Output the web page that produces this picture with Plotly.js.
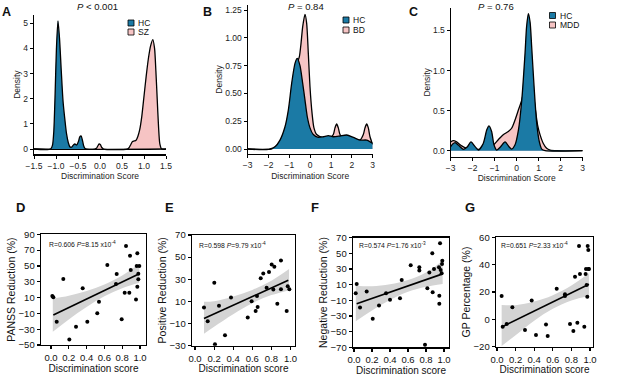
<!DOCTYPE html>
<html><head><meta charset="utf-8">
<script src="https://cdn.plot.ly/plotly-3.0.1.min.js"></script>
<style>html,body{margin:0;padding:0;background:#fff}#chart{width:628px;height:377px}</style>
</head><body><div id="chart"></div>
<script>
// ---------- Panel A : density (HC vs SZ) ----------
const aHcX = [-1.5,-1.12,-1.08,-1.05,-1.02,-0.99,-0.955,-0.92,-0.88,-0.84,-0.80,-0.76,-0.72,-0.68,-0.64,-0.60,-0.57,-0.53,-0.49,-0.46,-0.43,-0.40,-0.37,-0.34,-0.30,1.5];
const aHcY = [0,0,0.15,0.7,2.2,4.0,5.1,4.4,3.1,1.9,1.2,0.6,0.25,0.08,0.08,0.17,0.2,0.16,0.3,0.48,0.52,0.35,0.12,0.02,0,0];
const aSzX = [-1.5,-0.12,-0.08,-0.05,-0.02,0.01,0.04,0.08,0.62,0.66,0.70,0.74,0.78,0.82,0.86,0.90,0.95,1.00,1.05,1.10,1.15,1.20,1.24,1.27,1.30,1.33,1.36,1.40,1.5];
const aSzY = [0,0,0.03,0.12,0.2,0.17,0.06,0,0,0.05,0.18,0.3,0.32,0.35,0.5,0.75,1.3,2.1,2.9,3.6,4.1,4.35,4.0,3.1,2.0,0.9,0.2,0,0];
// ---------- Panel B : density (HC vs BD) ----------
const bHcX = [-3,-1.93,-1.69,-1.45,-1.21,-1.05,-0.89,-0.73,-0.62,-0.49,-0.36,-0.25,-0.14,-0.01,0.15,0.39,0.63,0.87,1.11,1.43,1.75,2.07,2.39,2.71,3.0];
const bHcY = [0,0,0.02,0.08,0.2,0.35,0.59,0.77,0.815,0.75,0.59,0.44,0.29,0.19,0.13,0.105,0.11,0.12,0.11,0.117,0.126,0.105,0.08,0.08,0.05];
const bBdX = [-3,-1.85,-1.45,-1.13,-0.81,-0.62,-0.52,-0.44,-0.36,-0.25,-0.17,-0.09,-0.01,0.09,0.18,0.31,0.63,0.95,1.11,1.19,1.27,1.35,1.43,1.59,2.07,2.39,2.55,2.63,2.71,2.79,2.87,3.0];
const bBdY = [0,0,0.06,0.2,0.53,0.77,0.83,0.95,1.1,1.21,1.13,0.86,0.56,0.32,0.19,0.13,0.1,0.1,0.13,0.19,0.225,0.19,0.13,0.1,0.09,0.08,0.13,0.19,0.225,0.19,0.11,0.04];
// ---------- Panel C : density (HC vs MDD) ----------
const cHcX = [-3,-2.91,-2.8,-2.65,-2.42,-2.24,-2.08,-1.89,-1.74,-1.52,-1.36,-1.26,-1.14,-1.03,-0.91,-0.73,-0.53,-0.35,-0.23,-0.08,0.08,0.23,0.38,0.45,0.53,0.61,0.68,0.79,0.91,1.03,1.14,1.29,3.0];
const cHcY = [0.05,0.083,0.1,0.07,0.017,0.05,0.11,0.05,0.008,0.09,0.26,0.31,0.24,0.07,0.008,0.05,0.11,0.05,0.02,0.07,0.26,0.63,1.22,1.55,1.71,1.6,1.3,0.8,0.34,0.11,0.02,0,0];
const cMddX = [-3,-2.88,-2.73,-2.5,-2.27,-1.97,-1.67,-1.36,-1.06,-0.83,-0.61,-0.38,-0.23,-0.08,0.08,0.23,0.38,0.53,0.68,0.83,0.95,1.06,1.21,1.36,1.52,1.82,3.0];
const cMddY = [0.11,0.125,0.11,0.06,0.03,0.017,0.017,0.03,0.07,0.14,0.2,0.24,0.28,0.38,0.51,0.63,0.8,0.93,0.84,0.55,0.32,0.2,0.09,0.03,0.008,0,0];
const groupNames = {a:['HC','SZ'], b:['HC','BD'], c:['HC','MDD']};
const pValues = ['<i>P</i> < 0.001','<i>P</i> = 0.84','<i>P</i> = 0.76'];

// ---------- Panel D ----------
const dX = [0.015,0.026,0.064,0.138,0.206,0.281,0.356,0.408,0.539,0.52,0.633,0.738,0.73,0.794,0.843,0.828,0.88,0.888,0.896,0.955,0.97,0.963,0.97,0.981,0.992,0.981];
const dY = [12,10.3,-20.5,33.5,-42.9,-26.8,21.7,-20.5,4.8,-10,51.2,39.8,27.2,-17.5,75.2,16.2,16.2,63,44.9,7.7,66,50,23.8,33,50,40];
const dFitX = [0.026,0.992], dFitY = [-12,40.2];
const dBandX = [0.02,0.2,0.4,0.6,0.8,0.992];
const dBandHi = [8.7,12.4,18.2,26.5,37.8,52.6];
const dBandLo = [-33.3,-17.6,-1.8,11.5,21.8,28.6];
// ---------- Panel E ----------
const eX = [0.094,0.133,0.202,0.209,0.251,0.314,0.377,0.552,0.593,0.635,0.656,0.649,0.688,0.715,0.75,0.775,0.803,0.831,0.82,0.862,0.9,0.9,0.96,0.971,0.988];
const eY = [4.4,-8,26.8,-28.8,6,-20.6,13.5,-4.6,10.2,1.4,5,15,31,35.3,22.3,36.5,43.4,41.3,20.8,7.8,47,21,1.4,23.8,21];
const eFitX = [0.094,0.977], eFitY = [-5.5,29.2];
const eBandX = [0.094,0.2,0.4,0.6,0.8,0.985];
const eBandHi = [9.6,10.2,14.5,20.4,28.7,39.2];
const eBandLo = [-19.1,-12.8,-1.5,8.4,15.7,20.2];
// ---------- Panel F ----------
const fX = [0.019,0.03,0.067,0.141,0.208,0.278,0.356,0.4,0.511,0.53,0.63,0.726,0.726,0.789,0.815,0.837,0.87,0.874,0.889,0.944,0.948,0.948,0.956,0.963,0.978,0.981,0.974];
const fY = [-0.9,11,-19.1,1.3,-33.5,-16.6,-0.9,-9.3,-7.2,16.1,34.8,32.2,28,-66.6,5.5,25.5,50,0.4,30.1,32.2,-4.2,-14.4,62.8,28.8,36.5,40.7,24.6];
const fFitX = [0.03,0.985], fFitY = [-14.4,23.8];
const fBandX = [0.02,0.2,0.4,0.6,0.8,0.985];
const fBandHi = [8.5,7.9,10.4,15.9,25.4,41];
const fBandLo = [-36.8,-23.1,-9.6,0.9,7.4,11];
// ---------- Panel G ----------
const gX = [0.05,0.061,0.104,0.165,0.301,0.373,0.419,0.527,0.545,0.642,0.731,0.731,0.785,0.821,0.839,0.864,0.882,0.892,0.939,0.953,0.957,0.964,0.971,0.975,0.982,0.982,0.989];
const gY = [17.1,-5.4,-3.4,8.8,-7.8,13.7,-11.5,-3.7,-12.2,22.4,18.3,17.1,-3.4,-8.5,31.2,-2.4,53.7,33.2,-5.4,33.2,36.8,25.1,16.6,53.7,50.7,36.8,36.8];
const gFitX = [0.057,0.989], gFitY = [-5.4,25.6];
const gBandX = [0.05,0.2,0.4,0.6,0.8,0.989];
const gBandHi = [10.5,10.4,13,17.7,24.8,33.7];
const gBandLo = [-19.5,-11.6,-1,7.7,13.8,17.1];

const statTexts = [
  'R=0.606 <i>P</i>=8.15 x10<sup>-4</sup>',
  'R=0.598 <i>P</i>=9.79 x10<sup>-4</sup>',
  'R=0.574 <i>P</i>=1.76 x10<sup>-3</sup>',
  'R=0.651 <i>P</i>=2.33 x10<sup>-4</sup>'
];
const yTitles = ['PANSS Reduction (%)','Positive Reduction (%)','Negative Reduction (%)','GP Percentage (%)'];

// ---------- layout helpers ----------
const W = 628, H = 377;
const PX = p => p / W;
const PY = p => 1 - p / H;
const FONT = 'Liberation Sans, Arial, Helvetica, sans-serif';
const BLUE = '#1b7aa5', PINK = '#f6c4c4', BAND = '#d4d4d4';

const traces = [];
function dens(x, y, color, ax) {
  traces.push({x, y, type:'scatter', mode:'lines', fill:'tozeroy', fillcolor:color,
    line:{color:'#000', width:1.3, shape:'spline', smoothing:0.7},
    xaxis:'x'+ax, yaxis:'y'+ax, showlegend:false, hoverinfo:'skip'});
}
dens(aSzX, aSzY, PINK, '');
dens(aHcX, aHcY, BLUE, '');
dens(bBdX, bBdY, PINK, '2');
dens(bHcX, bHcY, BLUE, '2');
dens(cMddX, cMddY, PINK, '3');
dens(cHcX, cHcY, BLUE, '3');

function scat(px, py, fx, fy, bx, lo, hi, ax) {
  const xa = 'x'+ax, ya = 'y'+ax;
  traces.push({x:bx, y:lo, type:'scatter', mode:'lines', line:{width:0, shape:'spline'}, xaxis:xa, yaxis:ya, showlegend:false, hoverinfo:'skip'});
  traces.push({x:bx, y:hi, type:'scatter', mode:'lines', fill:'tonexty', fillcolor:BAND, line:{width:0, shape:'spline'}, xaxis:xa, yaxis:ya, showlegend:false, hoverinfo:'skip'});
  traces.push({x:fx, y:fy, type:'scatter', mode:'lines', line:{color:'#000', width:1.6}, xaxis:xa, yaxis:ya, showlegend:false});
  traces.push({x:px, y:py, type:'scatter', mode:'markers', marker:{color:'#000', size:4}, xaxis:xa, yaxis:ya, showlegend:false});
}
scat(dX, dY, dFitX, dFitY, dBandX, dBandLo, dBandHi, '4');
scat(eX, eY, eFitX, eFitY, eBandX, eBandLo, eBandHi, '5');
scat(fX, fY, fFitX, fFitY, fBandX, fBandLo, fBandHi, '6');
scat(gX, gY, gFitX, gFitY, gBandX, gBandLo, gBandHi, '7');

function densX(l, r, rng, anchor, dtick, fmt) {
  return {domain:[PX(l), PX(r)], range:rng, anchor, showline:true, linecolor:'#000', linewidth:1.2,
    ticks:'outside', ticklen:3, tickwidth:1, tickcolor:'#000', showgrid:false, zeroline:false,
    tick0:rng[0], dtick, tickformat:fmt, tickfont:{size:8.5, color:'#222', family:FONT},
    title:{text:'Discrimination Score', font:{size:8.5, color:'#222', family:FONT}, standoff:3}};
}
function densY(t, b, rng, anchor, dtick, fmt) {
  return {domain:[PY(b), PY(t)], range:rng, anchor, showline:true, linecolor:'#000', linewidth:1.2,
    ticks:'outside', ticklen:3, tickwidth:1, tickcolor:'#000', showgrid:false, zeroline:false,
    tick0:0, dtick, tickformat:fmt, tickfont:{size:8.5, color:'#222', family:FONT},
    title:{text:'Density', font:{size:8.5, color:'#222', family:FONT}, standoff:1}};
}
function boxX(l, r, rng, anchor) {
  return {domain:[PX(l), PX(r)], range:rng, anchor, showline:true, mirror:true, linecolor:'#000', linewidth:1.4,
    ticks:'outside', ticklen:3, tickwidth:1.2, tickcolor:'#000', showgrid:false, zeroline:false,
    tick0:0, dtick:0.2, tickformat:'.1f', tickfont:{size:9.5, color:'#111', family:FONT},
    title:{text:'Discrimination score', font:{size:10, color:'#111', family:FONT}, standoff:2}};
}
function boxY(t, b, rng, anchor, title) {
  return {domain:[PY(b), PY(t)], range:rng, anchor, showline:true, mirror:true, linecolor:'#000', linewidth:1.4,
    ticks:'outside', ticklen:3, tickwidth:1.2, tickcolor:'#000', showgrid:false, zeroline:false,
    tick0:rng[0], dtick:20, tickfont:{size:9.5, color:'#111', family:FONT},
    title:{text:title, font:{size:10.5, color:'#111', family:FONT}, standoff:1}};
}

const layout = {
  width:W, height:H, margin:{l:0, r:0, t:0, b:0}, paper_bgcolor:'#fff', plot_bgcolor:'rgba(0,0,0,0)',
  font:{family:FONT, color:'#111'}, showlegend:false,
  xaxis: densX(34, 166, [-1.5, 1.5], 'y', 0.5, '.1f'),
  yaxis: densY(15, 154.3, [-0.21, 5.33], 'x', 1, 'd'),
  xaxis2: densX(247.7, 372.7, [-3, 3], 'y2', 1, 'd'),
  yaxis2: densY(5, 154, [-0.045, 1.295], 'x2', 0.25, '.2f'),
  xaxis3: densX(450.7, 582.7, [-3, 3], 'y3', 1, 'd'),
  yaxis3: densY(8, 156.7, [-0.075, 1.78], 'x3', 0.5, '.1f'),
  xaxis4: boxX(41, 146, [-0.1124, 1.0674], 'y4'),
  yaxis4: boxY(234.3, 345, [-50, 90], 'x4', yTitles[0]),
  xaxis5: boxX(192, 295, [-0.0314, 1.0471], 'y5'),
  yaxis5: boxY(235, 345.7, [-30, 70], 'x5', yTitles[1]),
  xaxis6: boxX(353, 449, [-0.0111, 1.0556], 'y6'),
  yaxis6: boxY(237.7, 347.3, [-70, 70], 'x6', yTitles[2]),
  xaxis7: boxX(496, 593, [-0.0108, 1.0323], 'y7'),
  yaxis7: boxY(237.3, 346.7, [-20, 60], 'x7', yTitles[3]),
  annotations: [], shapes: []
};

function txt(x, y, text, size, opts) {
  layout.annotations.push(Object.assign({xref:'paper', yref:'paper', x:PX(x), y:PY(y), text, showarrow:false,
    xanchor:'center', yanchor:'middle', font:{size, color:'#111', family:FONT}}, opts || {}));
}
// panel letters
[['A',6,12],['B',207,12],['C',413,12]].forEach(l => txt(l[1], l[2], '<b>'+l[0]+'</b>', 12.5));
[['D',20,207],['E',169,207],['F',315,207],['G',470,207]].forEach(l => txt(l[1], l[2], '<b>'+l[0]+'</b>', 13));
// P values
txt(97, 6.5, pValues[0], 9.5);
txt(306, 6.5, pValues[1], 9.5);
txt(496, 6.5, pValues[2], 9.5);
// legends (drawn as swatches)
function legend(x, y1, y2, names) {
  [[y1, BLUE, names[0]], [y2, PINK, names[1]]].forEach(e => {
    layout.shapes.push({type:'rect', xref:'paper', yref:'paper', x0:PX(x), x1:PX(x+6), y0:PY(e[0]+3), y1:PY(e[0]-3),
      fillcolor:e[1], line:{color:'#000', width:0.8}});
    txt(x+8, e[0], e[2], 8.5, {xanchor:'left'});
  });
}
legend(128, 23, 32, groupNames.a);
legend(343, 20, 30, groupNames.b);
legend(549.5, 15.5, 25, groupNames.c);
// stats text
txt(46.5, 243.5, statTexts[0], 6.8, {xanchor:'left'});
txt(196.5, 244.5, statTexts[1], 6.8, {xanchor:'left'});
txt(357, 244.5, statTexts[2], 6.8, {xanchor:'left'});
txt(499, 244.5, statTexts[3], 6.8, {xanchor:'left'});

Plotly.newPlot('chart', traces, layout, {staticPlot:true, displayModeBar:false});
</script></body></html>
